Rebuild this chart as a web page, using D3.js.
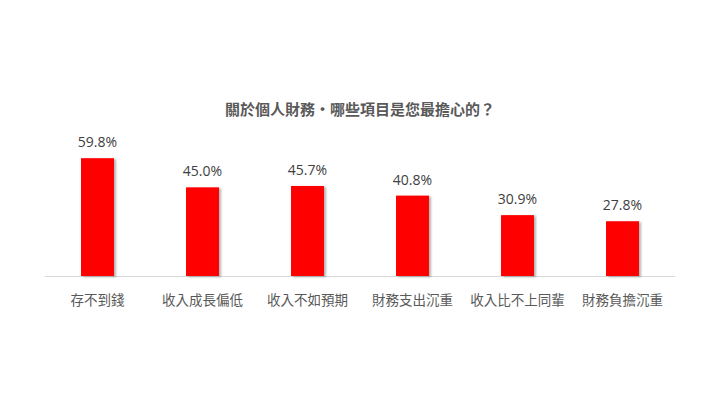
<!DOCTYPE html>
<html>
<head>
<meta charset="utf-8">
<script src="https://cdn.jsdelivr.net/npm/d3@7"></script>
<style>
  html, body { margin: 0; padding: 0; background: #fff; }
  svg text { font-family: "Noto Sans CJK TC", "Noto Sans", sans-serif; }
</style>
</head>
<body>
<div id="chart"></div>
<script>
// data
const categories = ['存不到錢', '收入成長偏低', '收入不如預期', '財務支出沉重', '收入比不上同輩', '財務負擔沉重'];
const values = [59.8, 45.0, 45.7, 40.8, 30.9, 27.8];
const title = '關於個人財務‧哪些項目是您最擔心的？';

const width = 720, height = 405;
const baseY = 276;

const svg = d3.select('#chart')
    .append('svg')
    .attr('width', width)
    .attr('height', height);

// soft shadow to the right of the bars
const defs = svg.append('defs');
const filter = defs.append('filter').attr('id', 'shadow')
    .attr('x', '-20%').attr('y', '-10%').attr('width', '150%').attr('height', '120%');
filter.append('feDropShadow')
    .attr('dx', 2).attr('dy', 1).attr('stdDeviation', 1.2)
    .attr('flood-color', '#000').attr('flood-opacity', 0.3);

const scaleX = d3.scaleBand()
    .domain(categories)
    .range([45, 675])
    .paddingInner(0.686)
    .paddingOuter(0.343);

const scaleY = d3.scaleLinear()
    .domain([0, 70])
    .range([baseY, baseY - 70 * 1.97]);

svg.append('text')
    .attr('x', 360).attr('y', 115)
    .attr('text-anchor', 'middle')
    .attr('font-size', 15)
    .attr('font-weight', 'bold')
    .attr('fill', '#595959')
    .text(title);

// axis baseline
svg.append('line')
    .attr('x1', 45).attr('x2', 675)
    .attr('y1', baseY + 0.5).attr('y2', baseY + 0.5)
    .attr('stroke', '#d9d9d9').attr('stroke-width', 1);

const data = categories.map((c, i) => [c, values[i]]);

svg.selectAll('rect.bar')
    .data(data)
    .join('rect')
    .classed('bar', true)
    .attr('x', d => scaleX(d[0]))
    .attr('y', d => scaleY(d[1]))
    .attr('width', scaleX.bandwidth())
    .attr('height', d => baseY - scaleY(d[1]))
    .attr('fill', '#ff0000')
    .attr('filter', 'url(#shadow)');

svg.selectAll('text.val')
    .data(data)
    .join('text')
    .classed('val', true)
    .attr('x', d => scaleX(d[0]) + scaleX.bandwidth() / 2)
    .attr('y', d => scaleY(d[1]) - 11)
    .attr('text-anchor', 'middle')
    .attr('font-size', 14)
    .style('font-family', '"Open Sans", sans-serif')
    .attr('fill', '#404040')
    .text(d => d[1].toFixed(1) + '%');

const axisX = d3.axisBottom(scaleX).tickSize(0).tickPadding(0);
svg.append('g')
    .attr('transform', `translate(0,${baseY})`)
    .call(axisX)
    .call(g => g.select('.domain').remove())
    .call(g => g.selectAll('text')
        .attr('dy', null)
        .attr('y', 29)
        .attr('font-size', 13.5)
        .attr('font-family', '"Noto Sans CJK TC", sans-serif')
        .attr('fill', '#595959'));
</script>
</body>
</html>
